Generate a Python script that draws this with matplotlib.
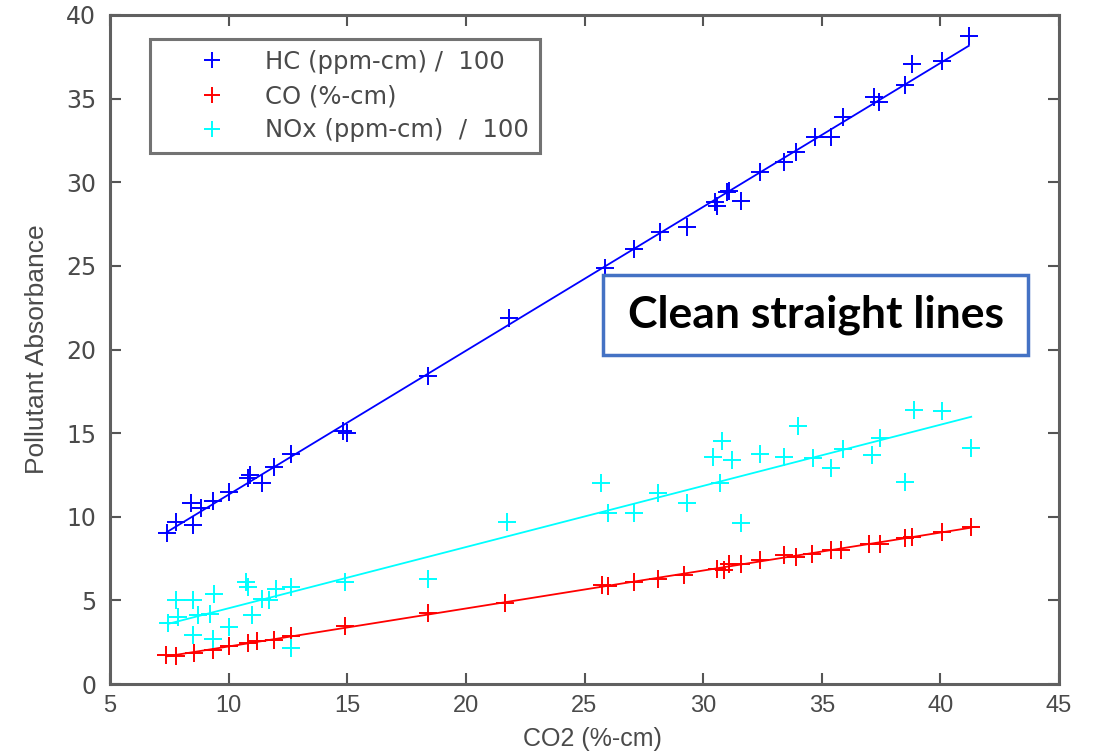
import numpy as np
import matplotlib
matplotlib.use("Agg")
import matplotlib.pyplot as plt
from matplotlib.patches import Rectangle

# ---------------- data ----------------
hc_x = [7.4, 7.8, 8.4, 8.5, 8.85, 9.35, 10.0, 10.8, 10.9, 11.4, 11.9, 12.65,
        14.8, 15.0, 18.4, 21.8, 25.85, 27.1, 28.2, 29.3, 30.5, 30.6, 31.0, 31.1,
        31.6, 32.4, 33.4, 33.9, 34.7, 35.4, 35.9, 37.2, 37.4, 38.5, 38.8, 40.05, 41.2]
hc_y = [9.0, 9.7, 10.8, 9.5, 10.5, 10.95, 11.5, 12.3, 12.5, 12.0, 13.0, 13.75,
        15.1, 15.0, 18.4, 21.9, 24.9, 26.0, 27.0, 27.3, 28.8, 28.6, 29.4, 29.5,
        28.9, 30.6, 31.2, 31.8, 32.7, 32.7, 33.9, 35.1, 34.8, 35.8, 37.1, 37.26, 38.75]

co_x = [7.37, 7.8, 8.55, 9.34, 10.0, 10.8, 11.2, 11.9, 12.65, 14.9, 18.4, 21.65,
        25.75, 26.0, 27.1, 28.1, 29.2, 30.6, 30.9, 31.1, 31.6, 32.4, 33.4, 33.9,
        34.6, 35.4, 35.8, 37.0, 37.45, 38.5, 38.8, 40.05, 41.3]
co_y = [1.73, 1.67, 1.85, 2.04, 2.26, 2.44, 2.56, 2.62, 2.86, 3.45, 4.23, 4.87,
        5.9, 5.85, 6.1, 6.3, 6.5, 6.9, 6.8, 7.2, 7.2, 7.4, 7.7, 7.6,
        7.8, 8.0, 8.0, 8.4, 8.4, 8.7, 8.8, 9.1, 9.4]

nox_x = [7.45, 7.8, 7.86, 8.5, 8.5, 8.7, 9.2, 9.4, 9.34, 10.0, 10.75, 10.8, 11.0,
         11.4, 11.7, 12.0, 12.65, 12.65, 14.9, 18.4, 21.75, 25.7, 26.0, 27.1,
         28.1, 29.3, 30.4, 30.7, 30.8, 31.2, 31.6, 32.4, 33.4, 34.0, 34.65,
         35.4, 35.9, 37.1, 37.45, 38.5, 38.9, 40.05, 41.3]
nox_y = [3.63, 5.0, 4.0, 5.0, 2.9, 4.1, 4.2, 5.4, 2.7, 3.4, 6.1, 5.8, 4.1,
         5.1, 5.0, 5.7, 5.8, 2.15, 6.1, 6.3, 9.7, 12.0, 10.2, 10.2,
         11.4, 10.8, 13.55, 12.0, 14.55, 13.4, 9.6, 13.75, 13.55, 15.4, 13.5,
         12.9, 14.05, 13.7, 14.7, 12.1, 16.4, 16.3, 14.1]

labels = ["HC (ppm-cm) /  100", "CO (%-cm)", "NOx (ppm-cm)  /  100"]
x_ticks = [5, 10, 15, 20, 25, 30, 35, 40, 45]
y_ticks = [0, 5, 10, 15, 20, 25, 30, 35, 40]
note = "Clean straight lines"

# ---------------- figure ----------------
W, H = 1094, 755
fig = plt.figure(figsize=(W / 100, H / 100), dpi=100)
ax = fig.add_axes([110 / W, 1 - 684 / H, (1059 - 110) / W, (684 - 15) / H])

colors = ["#0000ff", "#ff0000", "#00ffff"]
series = [(hc_x, hc_y), (co_x, co_y), (nox_x, nox_y)]
handles = []
for (xs, ys), c, lab in zip(series, colors, labels):
    xs = np.asarray(xs); ys = np.asarray(ys)
    h, = ax.plot(xs, ys, linestyle="none", marker="+", markersize=13,
                 markeredgewidth=1.4, color=c, label=lab)
    handles.append(h)
    coef = np.polyfit(xs, ys, 1)
    xx = np.array([xs.min(), xs.max()])
    ax.plot(xx, np.polyval(coef, xx), color=c, lw=1.3)

ax.set_xlim(5, 45)
ax.set_ylim(0, 40)
ax.set_xticks(x_ticks)
ax.set_yticks(y_ticks)

tick_col = "#4a4a4a"
ax.tick_params(direction="in", length=8, width=1.5, color="#555555",
               top=True, right=True, labelcolor=tick_col)
for lab in ax.get_yticklabels():
    lab.set_fontsize(17)
    lab.set_fontfamily("DejaVu Sans")
for lab in ax.get_xticklabels():
    lab.set_fontsize(17)
    lab.set_fontfamily(["Liberation Sans Narrow", "Liberation Sans"])
ax.tick_params(axis="y", pad=10)
ax.tick_params(axis="x", pad=8)

for sp in ax.spines.values():
    sp.set_color("#606060")
    sp.set_linewidth(2.2)

ax.set_xlabel("CO2 (%-cm)", fontsize=18, color=tick_col,
              family=["Liberation Sans Narrow", "Liberation Sans"])
ax.xaxis.set_label_coords(0.5 + 8 / (1059 - 110), -55 / (684 - 15))
ax.xaxis.label.set_va("center")
ax.set_ylabel("Pollutant Absorbance", fontsize=19, color=tick_col,
              family=["Liberation Sans Narrow", "Liberation Sans"], labelpad=12)

leg = fig.legend(handles=handles, labels=labels, loc="upper left",
                 bbox_to_anchor=(150 / W, 1 - 39 / H), bbox_transform=fig.transFigure,
                 borderaxespad=0, fontsize=17.5, frameon=True, fancybox=False,
                 borderpad=0.45, handlelength=4.2, handletextpad=0.1,
                 labelspacing=0.42, markerscale=0.85)
leg.get_frame().set_edgecolor("#505050")
leg.get_frame().set_linewidth(2.2)
for t in leg.get_texts():
    t.set_color(tick_col)

# annotation box
bx0, bx1, by0, by1 = 603, 1028, 275, 355
fig.add_artist(Rectangle((bx0 / W, 1 - by1 / H), (bx1 - bx0) / W, (by1 - by0) / H,
                         transform=fig.transFigure, facecolor="white",
                         edgecolor="#4472C4", linewidth=2.5, zorder=10))
fig.text((bx0 + bx1) / 2 / W, 1 - (by0 + by1) / 2 / H, note, ha="center", va="center",
         fontsize=32, fontweight="bold", family=["Lato", "DejaVu Sans"],
         color="black", zorder=11)

fig.savefig("out.png", dpi=100)
